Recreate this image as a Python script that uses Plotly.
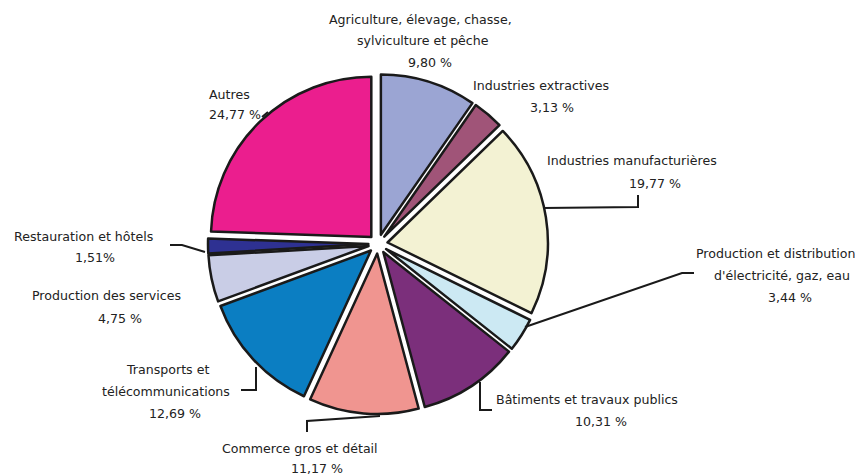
import plotly.graph_objects as go

# ---- data ----
categories = [
    "Agriculture, élevage, chasse,\nsylviculture et pêche",
    "Industries extractives",
    "Industries manufacturières",
    "Production et distribution\nd'électricité, gaz, eau",
    "Bâtiments et travaux publics",
    "Commerce gros et détail",
    "Transports et\ntélécommunications",
    "Production des services",
    "Restauration et hôtels",
    "Autres",
]
values = [9.80, 3.13, 19.77, 3.44, 10.31, 11.17, 12.69, 4.75, 1.51, 24.77]
value_labels = ["9,80 %", "3,13 %", "19,77 %", "3,44 %", "10,31 %",
                "11,17 %", "12,69 %", "4,75 %", "1,51%", "24,77 %"]

# ---- styles / layout ----
colors = ["#9BA5D3", "#A05478", "#F3F2D3", "#CCE9F3", "#7B2F7B",
          "#F09590", "#0B7EC2", "#C9CDE6", "#2E3192", "#EB1E8E"]

VW, VH = 863, 476      # browser window
OFF = 8                # default page body margin
W, H = VW - OFF, VH - OFF
CX, CY, R = 378, 244, 170


def px(x):
    return (x - OFF) / W


def py(y):
    return 1 - (y - OFF) / H


# label line centres (window pixels) for each category's text lines
label_lines_pos = [
    [(420, 19), (423, 41), (430, 62)],
    [(541, 86), (552, 107)],
    [(632, 161), (655, 183)],
    [(775, 253), (782, 275), (790, 297)],
    [(587, 399), (601, 421)],
    [(300, 448), (317, 468)],
    [(167, 369), (166, 391), (175, 413)],
    [(106, 295), (120, 318)],
    [(83, 236), (95, 257)],
    [(230, 94), (235, 115)],
]

# leader lines (window pixels)
leaders = [
    [(543, 208), (638, 207), (638, 195)],
    [(525, 327), (682, 273), (694, 273)],
    [(480, 382), (480, 410), (492, 410)],
    [(380, 416), (307, 421), (307, 432)],
    [(256, 367), (256, 390), (241, 390)],
    [(170, 245), (182, 245), (205, 252)],
    [(262, 117), (268, 112)],
]

fig = go.Figure(go.Pie(
    labels=[c.replace("\n", " ") for c in categories],
    values=values,
    sort=False,
    direction="clockwise",
    rotation=0,
    pull=[0.06] * len(values),
    marker=dict(colors=colors, line=dict(color="#1a1a1a", width=2.5)),
    textinfo="none",
    hoverinfo="skip",
    showlegend=False,
    domain=dict(x=[px(CX - R), px(CX + R)], y=[py(CY + R), py(CY - R)]),
))

annotations = []
for cat, vlab, pos in zip(categories, value_labels, label_lines_pos):
    lines = cat.split("\n") + [vlab]
    for text, (x, y) in zip(lines, pos):
        annotations.append(dict(
            x=px(x), y=py(y), xref="paper", yref="paper",
            text=text, showarrow=False, xanchor="center", yanchor="middle",
            font=dict(family="DejaVu Sans", size=12.6, color="#222222"),
        ))

shapes = []
for pts in leaders:
    path = "M " + " L ".join(f"{px(x)} {py(y)}" for x, y in pts)
    shapes.append(dict(type="path", xref="paper", yref="paper", path=path,
                       line=dict(color="#1a1a1a", width=2)))

fig.update_layout(
    width=W, height=H,
    margin=dict(l=0, r=0, t=0, b=0),
    paper_bgcolor="white", plot_bgcolor="white",
    annotations=annotations, shapes=shapes,
)

fig.write_html("out.html")
